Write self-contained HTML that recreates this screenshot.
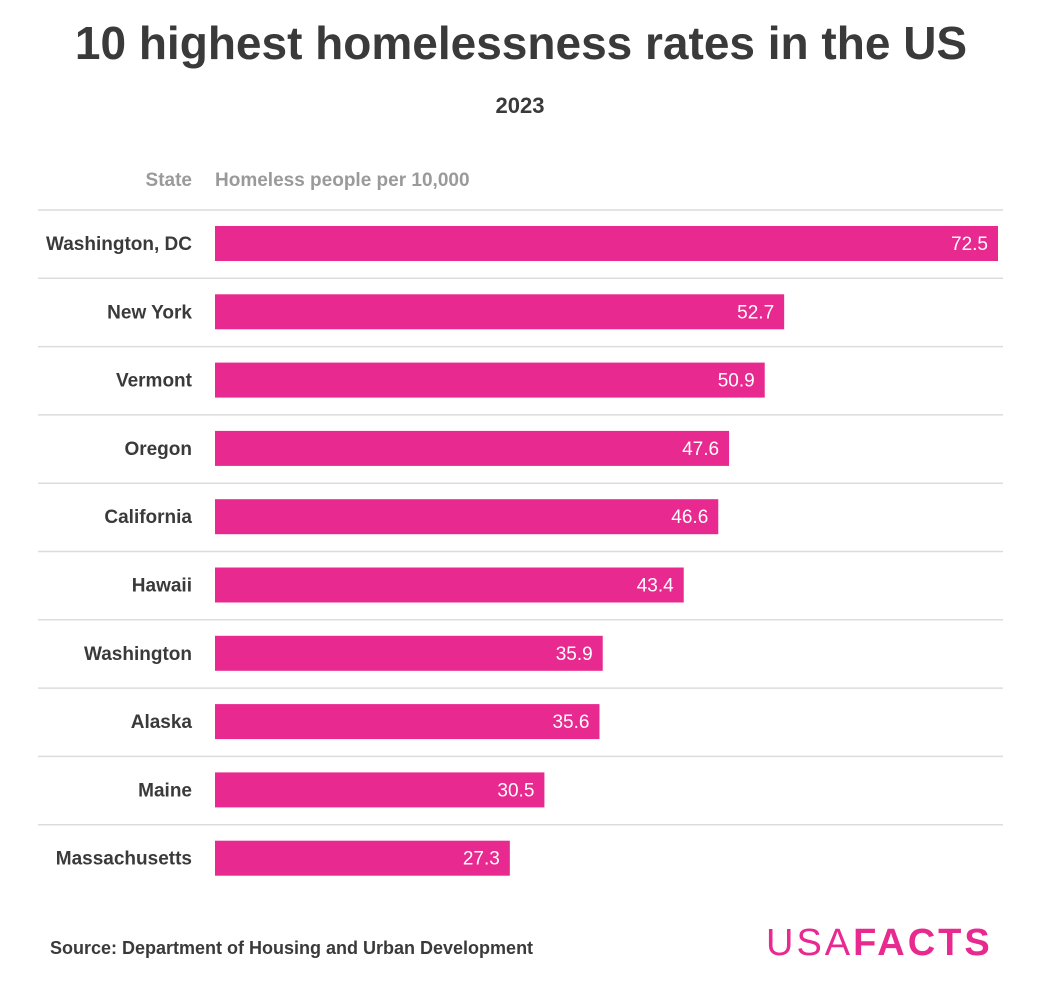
<!DOCTYPE html>
<html><head><meta charset="utf-8">
<style>
body{margin:0;background:#fff;font-family:"Liberation Sans",sans-serif;}
#wrap{position:relative;width:1048px;height:984px;overflow:hidden;}
.t{position:absolute;white-space:nowrap;}
</style></head>
<body>
<div id="wrap">
<div class="t" style="left:0;width:1042px;text-align:center;top:16px;font-size:46px;font-weight:bold;color:#3a3a3a;">10 highest homelessness rates in the US</div>
<div class="t" style="left:0;width:1040px;text-align:center;top:93px;font-size:22px;font-weight:bold;color:#3a3a3a;">2023</div>
<div class="t" style="right:856px;top:170px;font-size:19px;font-weight:bold;color:#9a9a9a;">State</div>
<div class="t" style="left:215px;top:170px;font-size:19px;font-weight:bold;color:#9a9a9a;">Homeless people per 10,000</div>
<svg id="chart" width="1048" height="984" style="position:absolute;left:0;top:0"></svg>
<div class="t" style="left:50px;top:938px;font-size:18px;font-weight:bold;color:#3a3a3a;">Source: Department of Housing and Urban Development</div>
<div class="t" style="left:766px;top:922px;font-size:38px;color:#e8298f;letter-spacing:3px;"><span style="font-weight:normal">USA</span><span style="font-weight:bold">FACTS</span></div>
</div>
<script>
const categories=["Washington, DC","New York","Vermont","Oregon","California","Hawaii","Washington","Alaska","Maine","Massachusetts"];
const values=[72.5,52.7,50.9,47.6,46.6,43.4,35.9,35.6,30.5,27.3];
const valueLabels=["72.5","52.7","50.9","47.6","46.6","43.4","35.9","35.6","30.5","27.3"];
const svg=document.getElementById('chart');
const NS='http://www.w3.org/2000/svg';
const x0=215, pxPerUnit=783/72.5;
function xScale(v){return x0+v*pxPerUnit;}
function yRow(i){return 210+i*68.3;}
function line(y){
 const l=document.createElementNS(NS,'line');
 l.setAttribute('x1',38);l.setAttribute('x2',1003);l.setAttribute('y1',y);l.setAttribute('y2',y);
 l.setAttribute('stroke','#dcdcdc');l.setAttribute('stroke-width','1.5');
 
 
 svg.appendChild(l);
}
categories.forEach((c,i)=>{
 const y=yRow(i);
 line(y);
 const r=document.createElementNS(NS,'rect');
 r.setAttribute('x',x0);r.setAttribute('y',y+16);r.setAttribute('width',xScale(values[i])-x0);r.setAttribute('height',35);
 r.setAttribute('fill','#e8298f');
 
 
 svg.appendChild(r);
 const lt=document.createElementNS(NS,'text');
 lt.setAttribute('x',192);lt.setAttribute('y',y+40);lt.setAttribute('text-anchor','end');
 lt.setAttribute('font-size','19');lt.setAttribute('font-weight','bold');lt.setAttribute('fill','#3a3a3a');
 lt.textContent=c;
 
 
 svg.appendChild(lt);
 const vt=document.createElementNS(NS,'text');
 vt.setAttribute('x',xScale(values[i])-10);vt.setAttribute('y',y+40);vt.setAttribute('text-anchor','end');
 vt.setAttribute('font-size','19');vt.setAttribute('fill','#fff');
 vt.textContent=valueLabels[i];
 
 
 svg.appendChild(vt);
});
</script>
</body></html>
